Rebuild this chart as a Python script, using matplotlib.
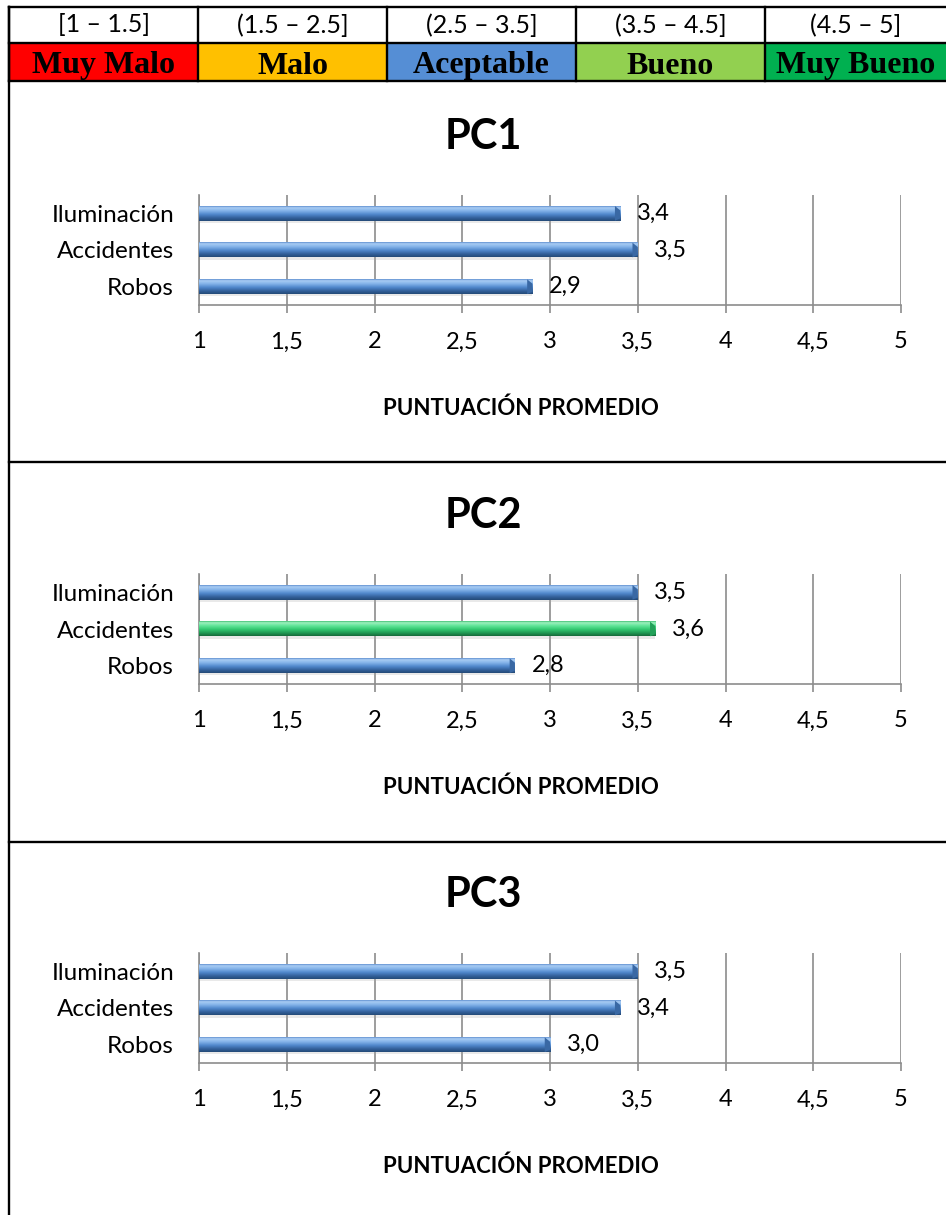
import numpy as np
import matplotlib.pyplot as plt
from matplotlib.colors import LinearSegmentedColormap
from matplotlib.patches import Rectangle, Polygon
from matplotlib.lines import Line2D

# rating scale shown in the header
rangos = ['[1 – 1.5]', '(1.5 – 2.5]', '(2.5 – 3.5]', '(3.5 – 4.5]', '(4.5 – 5]']
calificaciones = ['Muy Malo', 'Malo', 'Aceptable', 'Bueno', 'Muy Bueno']
colores_escala = ['#FF0000', '#FFC000', '#558ED5', '#92D050', '#00B050']

# average score per point of control (bottom to top: Robos, Accidentes, Iluminación)
categorias = ['Robos', 'Accidentes', 'Iluminación']
puntos = ['PC1', 'PC2', 'PC3']
pc1 = [2.9, 3.5, 3.4]
pc2 = [2.8, 3.6, 3.5]
pc3 = [3.0, 3.4, 3.5]
ticks = [1, 1.5, 2, 2.5, 3, 3.5, 4, 4.5, 5]
tick_labels = ['1', '1,5', '2', '2,5', '3', '3,5', '4', '4,5', '5']

W, H = 946, 1215
FONT = 'Lato'

fig = plt.figure(figsize=(W / 100, H / 100), dpi=100)


def fx(x):
    return x / W


def fy(y):
    return 1 - y / H


def hline(x0, x1, y, lw=1.7):
    fig.add_artist(Line2D([fx(x0), fx(x1)], [fy(y), fy(y)], color='black', lw=lw))


def vline(x, y0, y1, lw=1.7):
    fig.add_artist(Line2D([fx(x), fx(x)], [fy(y0), fy(y1)], color='black', lw=lw))


# header table
cols = [9, 198, 387, 576, 765, 946]
for i in range(5):
    x0, x1 = cols[i], cols[i + 1]
    fig.add_artist(Rectangle((fx(x0), fy(81)), fx(x1) - fx(x0), fy(43) - fy(81),
                             facecolor=colores_escala[i], edgecolor='none'))
    fig.text(fx((x0 + x1) / 2), fy(25), rangos[i], ha='center', va='center',
             fontsize=18, family=FONT)
    fig.text(fx((x0 + x1) / 2), fy(66), calificaciones[i], ha='center', va='center',
             fontsize=23, family='Liberation Serif', weight='bold')
for y in (7, 43, 81):
    hline(9, 946, y)
for x in cols[:-1]:
    vline(x, 7, 81)

# frame lines around the chart blocks
vline(9, 7, 1215)
hline(9, 946, 462)
hline(9, 946, 842)

blue = LinearSegmentedColormap.from_list('azul', [
    (0.0, '#5f8fcf'), (0.1, '#a9ccf3'), (0.3, '#86b5ea'),
    (0.55, '#5189cd'), (0.8, '#33609a'), (1.0, '#244a78')])
green = LinearSegmentedColormap.from_list('verde', [
    (0.0, '#3fbf72'), (0.1, '#9ff0bf'), (0.3, '#62e69a'),
    (0.55, '#34c972'), (0.8, '#1f9853'), (1.0, '#166a3a')])
grad = np.linspace(0, 1, 64).reshape(-1, 1)


def draw_chart(top, nombre, valores):
    ax = fig.add_axes([fx(199), fy(top + 110), fx(901) - fx(199), fy(top) - fy(top + 110)])
    h = 0.4
    for i, v in enumerate(valores):
        cmap = green if v > 3.5 else blue
        ax.add_patch(Rectangle((1, i - h / 2 - 0.06), v - 1, h, facecolor='#aaaaaa',
                               alpha=0.25, edgecolor='none', zorder=2))
        ax.imshow(grad, extent=(1, v, i - h / 2, i + h / 2), aspect='auto', cmap=cmap,
                  interpolation='bilinear', zorder=3)
        d = 0.03
        ax.add_patch(Polygon([(v - d, i + h / 2), (v, i + h / 2 - 0.3 * h),
                              (v, i - h / 2 + 0.15 * h), (v - d, i - h / 2)],
                             closed=True, facecolor=cmap(0.75), edgecolor='none', zorder=4))
        ax.annotate(f'{v:.1f}'.replace('.', ','), (v, i), xytext=(12, 0),
                    textcoords='offset points', ha='left', va='center',
                    fontsize=17, family=FONT, zorder=5)
    ax.set_xlim(1, 5)
    ax.set_ylim(-0.5, 2.5)
    ax.set_xticks(ticks)
    ax.set_xticklabels(tick_labels, fontsize=17, family=FONT)
    ax.set_yticks(range(len(categorias)))
    ax.set_yticklabels(categorias, fontsize=17.5, family=FONT)
    ax.tick_params(axis='y', length=0, pad=18)
    ax.tick_params(axis='x', length=6, width=1.2, color='#8c8c8c', pad=13)
    ax.grid(axis='x', color='#8c8c8c', lw=1.2)
    ax.set_axisbelow(True)
    for s in ('top', 'right'):
        ax.spines[s].set_visible(False)
    for s in ('left', 'bottom'):
        ax.spines[s].set_color('#8c8c8c')
        ax.spines[s].set_linewidth(1.2)
    fig.text(fx(483), fy(top - 58), nombre, ha='center', va='center',
             fontsize=30, family=FONT, weight='bold')
    fig.text(fx(521), fy(top + 213), 'PUNTUACIÓN PROMEDIO', ha='center', va='center',
             fontsize=16, family=FONT, weight='bold')


for top, nombre, valores in zip([195, 574, 953], puntos, [pc1, pc2, pc3]):
    draw_chart(top, nombre, valores)

fig.savefig('out.png', dpi=100)
